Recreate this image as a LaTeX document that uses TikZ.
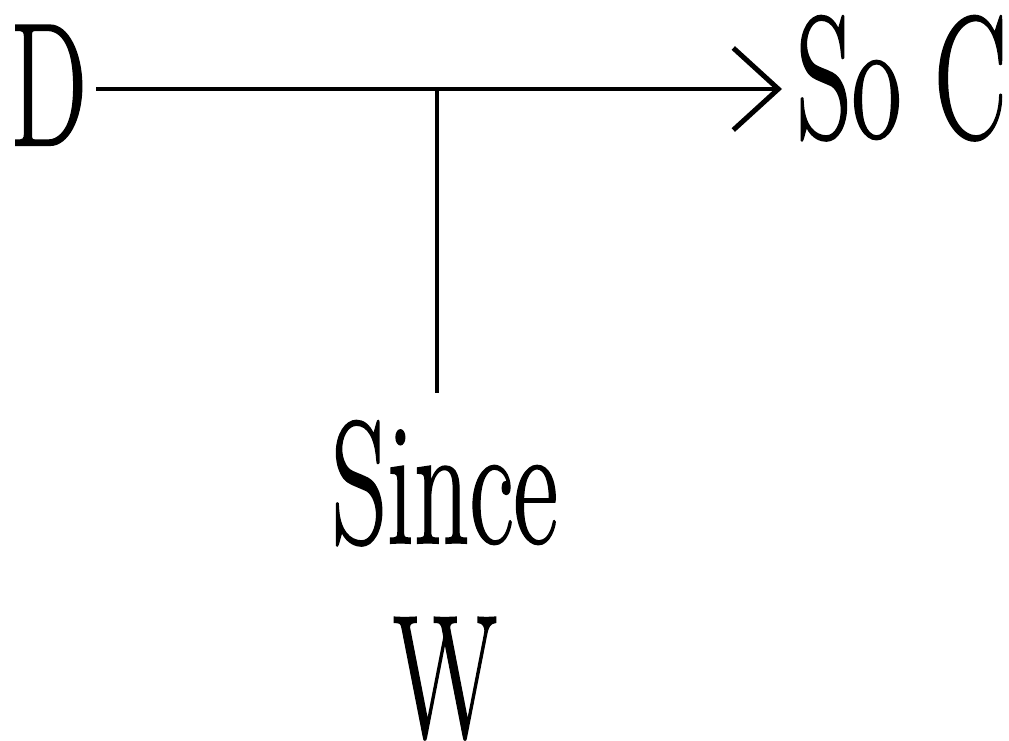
\documentclass[tikz,border=0pt]{standalone}
\usepackage{fontspec}
\setmainfont{Latin Modern Roman}
\newfontfamily\lblfont{Latin Modern Roman}[FakeBold=1.2]
\usepackage{graphicx}
\usetikzlibrary{arrows.meta}
\newcommand\narrow[1]{\scalebox{0.62}[1]{#1}}
\begin{document}
\begin{tikzpicture}[x=1pt,y=-1pt,
  lbl/.style={inner sep=0pt, anchor=base, font=\lblfont\fontsize{175}{175}\selectfont},
  conn/.style={line width=4pt},
  tip/.style={-{Straight Barb[length=45pt,width=82pt,line width=5pt]}}]
\useasboundingbox (0,0) rectangle (1009,741);
\node[lbl] (D) at (48.5,145) {\narrow{D}};
\node[lbl, anchor=base west] (SoC) at (796,138) {\narrow{So C}};
\node[lbl] (Since) at (444.5,543) {\narrow{Since}};
\node[lbl] (W) at (445,737) {\narrow{W}};
\coordinate (J) at (437,89);
\draw[conn, tip, shorten <=9pt, shorten >=14pt] (D.east |- J) -- (SoC.west |- J);
\draw[line width=3.5pt, shorten >=27pt] (J) -- (J |- Since.north);
\end{tikzpicture}
\end{document}
